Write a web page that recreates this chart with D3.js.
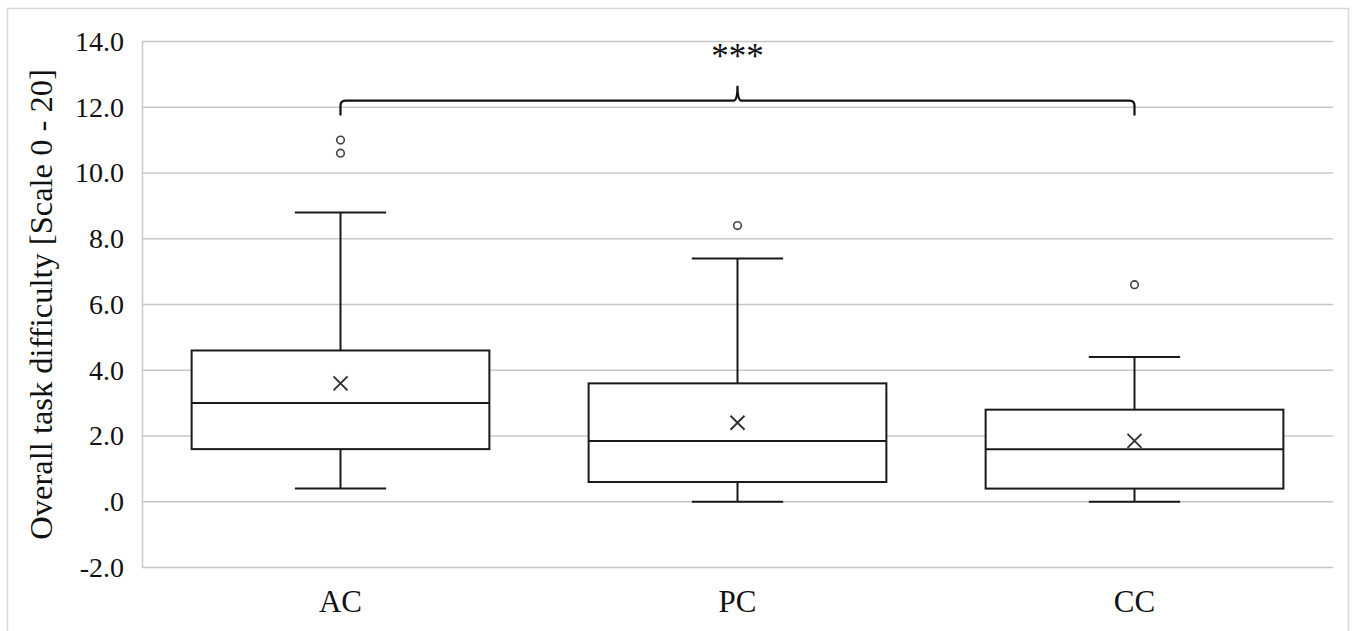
<!DOCTYPE html>
<html>
<head>
<meta charset="utf-8">
<script src="https://cdn.jsdelivr.net/npm/d3@7"></script>
<style>
  body { margin: 0; background: #fff; }
  svg { display: block; font-family: "Liberation Serif", "Times New Roman", serif; }
</style>
</head>
<body>
<svg width="1355" height="631"></svg>
<script>
const categories = ["AC", "PC", "CC"];
const q1 = [1.6, 0.6, 0.4];
const median = [3.0, 1.85, 1.6];
const q3 = [4.6, 3.6, 2.8];
const whiskerLow = [0.4, 0, 0];
const whiskerHigh = [8.8, 7.4, 4.4];
const means = [3.6, 2.4, 1.85];
const outliers = [[11.0, 10.6], [8.4], [6.6]];
const yTicks = [-2, 0, 2, 4, 6, 8, 10, 12, 14];

const width = 1355;
const height = 631;
const margin = { top: 41.4, right: 22, bottom: 63.5, left: 142 };

const x = d3
  .scaleBand()
  .domain(categories)
  .range([margin.left, width - margin.right])
  .padding(0);

const y = d3
  .scaleLinear()
  .domain([-2, 14])
  .range([height - margin.bottom, margin.top]);

const svg = d3.select("svg");

// outer chart border
svg.append("rect")
  .attr("x", 7.5).attr("y", 8.5)
  .attr("width", 1341).attr("height", 640)
  .attr("fill", "none")
  .attr("stroke", "#d9d9d9")
  .attr("stroke-width", 1.5);

// gridlines
svg.append("g")
  .selectAll("line")
  .data(yTicks)
  .join("line")
  .attr("x1", margin.left)
  .attr("x2", width - margin.right)
  .attr("y1", (d) => y(d))
  .attr("y2", (d) => y(d))
  .attr("stroke", "#c8c8c8")
  .attr("stroke-width", 1.5);

const fmt = (d) => (d === 0 ? ".0" : d3.format(".1f")(d).replace("\u2212", "-"));

// y axis
const yAxis = (g) =>
  g.attr("transform", `translate(${margin.left},0)`)
    .attr("font-family", null)
    .call(d3.axisLeft(y).tickValues(yTicks).tickSize(0).tickPadding(18).tickFormat(fmt))
    .attr("font-family", "Liberation Serif, serif")
    .attr("font-size", 28)
    .call((g) => g.select(".domain").attr("stroke", "#c8c8c8").attr("stroke-width", 1.5))
    .call((g) => g.selectAll("text").attr("fill", "#111"));
svg.append("g").call(yAxis);

// x axis labels
const xAxis = (g) =>
  g.attr("transform", `translate(0,${y(-2)})`)
    .call(d3.axisBottom(x).tickSize(0).tickPadding(22))
    .attr("font-family", "Liberation Serif, serif")
    .attr("font-size", 31)
    .call((g) => g.select(".domain").remove())
    .call((g) => g.selectAll("text").attr("fill", "#111"));
svg.append("g").call(xAxis);

// axis title
svg.append("text")
  .attr("transform", `translate(52,${(y(14) + y(-2)) / 2}) rotate(-90)`)
  .attr("text-anchor", "middle")
  .attr("font-size", 32.5)
  .attr("fill", "#111")
  .text("Overall task difficulty [Scale 0 - 20]");

const cx = (i) => x(categories[i]) + x.bandwidth() / 2;
const boxW = x.bandwidth() * 0.75;
const capW = x.bandwidth() * 0.23;
const idx = d3.range(categories.length);

const boxes = svg.append("g").attr("stroke", "#1a1a1a").attr("stroke-width", 2).attr("fill", "none");

// whiskers
boxes.selectAll(".wh")
  .data(idx)
  .join("path")
  .attr("d", (i) =>
    `M${cx(i)},${y(q3[i])}V${y(whiskerHigh[i])}M${cx(i) - capW / 2},${y(whiskerHigh[i])}H${cx(i) + capW / 2}` +
    `M${cx(i)},${y(q1[i])}V${y(whiskerLow[i])}M${cx(i) - capW / 2},${y(whiskerLow[i])}H${cx(i) + capW / 2}`);

// boxes
boxes.selectAll("rect")
  .data(idx)
  .join("rect")
  .attr("x", (i) => cx(i) - boxW / 2)
  .attr("y", (i) => y(q3[i]))
  .attr("width", boxW)
  .attr("height", (i) => y(q1[i]) - y(q3[i]))
  .attr("fill", "#fff");

// medians
boxes.selectAll(".med")
  .data(idx)
  .join("line")
  .attr("x1", (i) => cx(i) - boxW / 2)
  .attr("x2", (i) => cx(i) + boxW / 2)
  .attr("y1", (i) => y(median[i]))
  .attr("y2", (i) => y(median[i]));

// mean markers
svg.append("g")
  .selectAll("path")
  .data(idx)
  .join("path")
  .attr("d", (i) => {
    const px = cx(i), py = y(means[i]), s = 7;
    return `M${px - s},${py - s}L${px + s},${py + s}M${px - s},${py + s}L${px + s},${py - s}`;
  })
  .attr("stroke", "#333")
  .attr("stroke-width", 2)
  .attr("fill", "none");

// outliers
svg.append("g")
  .selectAll("circle")
  .data(idx.flatMap((i) => outliers[i].map((v) => ({ i, v }))))
  .join("circle")
  .attr("cx", (d) => cx(d.i))
  .attr("cy", (d) => y(d.v))
  .attr("r", 3.8)
  .attr("fill", "#fff")
  .attr("stroke", "#444")
  .attr("stroke-width", 1.6);

// significance bracket
const bx1 = cx(0), bx2 = cx(2), bm = (bx1 + bx2) / 2;
const by = y(12.2), byEnd = y(11.75), byPeak = y(12.65);
svg.append("path")
  .attr("d",
    `M${bx1},${byEnd}V${by + 5}Q${bx1},${by} ${bx1 + 5},${by}H${bm - 4}Q${bm},${by} ${bm},${byPeak}` +
    `Q${bm},${by} ${bm + 4},${by}H${bx2 - 5}Q${bx2},${by} ${bx2},${by + 5}V${byEnd}`)
  .attr("fill", "none")
  .attr("stroke", "#111")
  .attr("stroke-width", 2.2);

svg.append("text")
  .attr("x", bm)
  .attr("y", y(13.6) + 13)
  .attr("text-anchor", "middle")
  .attr("font-size", 35)
  .attr("fill", "#111")
  .text("***");
</script>
</body>
</html>
